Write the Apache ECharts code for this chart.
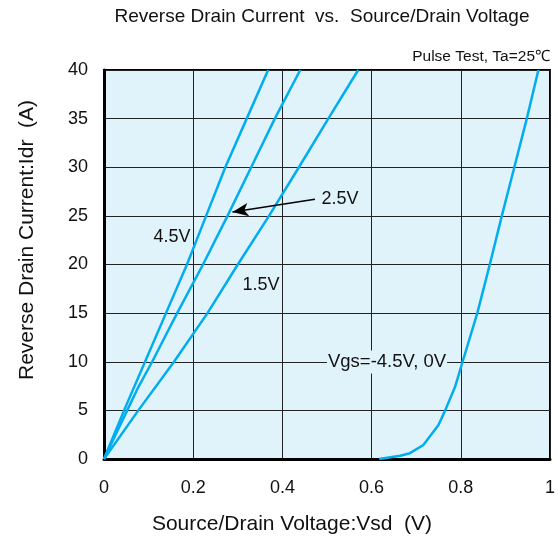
<!DOCTYPE html>
<html><head><meta charset="utf-8">
<script src="https://cdn.jsdelivr.net/npm/echarts@6/dist/echarts.min.js"></script>
<style>html,body{margin:0;padding:0;background:#fff}#c{width:558px;height:539px}</style>
</head><body><div id="c"></div>
<script>
const xTicks = [0, 0.2, 0.4, 0.6, 0.8, 1];
const yTicks = [0, 5, 10, 15, 20, 25, 30, 35, 40];
const vsd_45 = [0, 0.045, 0.092, 0.139, 0.186, 0.229, 0.272, 0.320, 0.368];
const idr_45 = [0, 5, 10, 15, 20, 25, 30, 35, 40];
const vsd_25 = [0, 0.052, 0.077, 0.108, 0.137, 0.164, 0.222, 0.277, 0.330, 0.383, 0.440];
const idr_25 = [0, 5, 7.4, 10, 12.6, 15, 20, 25, 30, 35, 40];
const vsd_15 = [0, 0.077, 0.157, 0.232, 0.300, 0.370, 0.437, 0.503, 0.570];
const idr_15 = [0, 5, 10, 15, 20, 25, 30, 35, 40];
const vsd_0 = [0.617, 0.664, 0.686, 0.716, 0.750, 0.765, 0.787, 0.804, 0.837, 0.865, 0.892, 0.920, 0.948, 0.974];
const idr_0 = [0, 0.34, 0.6, 1.44, 3.5, 5.0, 7.4, 10, 15, 20, 25, 30, 35, 40];

const FONT = '"Liberation Sans", Arial, sans-serif';
const LINE = '#00aeef';
const zip = (xs, ys) => xs.map((x, i) => [x, ys[i]]);

const chart = echarts.init(document.getElementById('c'), null, {renderer: 'canvas'});
function mkLine(name, xs, ys) {
  return {name, type: 'line', data: zip(xs, ys), showSymbol: false, symbol: 'none',
    lineStyle: {color: LINE, width: 2.5}, silent: true, z: 3};
}
const option = {
  animation: false,
  grid: {left: 104, right: 8, top: 70, bottom: 80, show: true, backgroundColor: '#e0f2fa',
    borderColor: '#000', borderWidth: 2, containLabel: false},
  xAxis: {type: 'value', min: xTicks[0], max: xTicks[xTicks.length - 1], interval: 0.2,
    axisLine: {show: true, onZero: false, lineStyle: {color: '#000', width: 3}},
    axisTick: {show: false},
    splitLine: {show: true, lineStyle: {color: '#222', width: 1}},
    axisLabel: {color: '#111', fontSize: 18, fontFamily: FONT, margin: 20,
      formatter: v => String(Math.round(v * 10) / 10)}},
  yAxis: {type: 'value', min: yTicks[0], max: yTicks[yTicks.length - 1], interval: 5,
    axisLine: {show: true, onZero: false, lineStyle: {color: '#000', width: 3}},
    axisTick: {show: false},
    splitLine: {show: true, lineStyle: {color: '#222', width: 1}},
    axisLabel: {color: '#111', fontSize: 18, fontFamily: FONT, margin: 16}},
  series: [
    mkLine('4.5V', vsd_45, idr_45),
    mkLine('2.5V', vsd_25, idr_25),
    mkLine('1.5V', vsd_15, idr_15),
    Object.assign(mkLine('Vgs=-4.5V, 0V', vsd_0, idr_0), {
      markLine: {silent: true, symbol: ['none', 'none'], animation: false,
        lineStyle: {color: '#222', width: 1, type: 'solid'}, label: {show: false},
        data: [[{coord: [0.769, 10]}, {coord: [0.80, 10]}]]}
    }),
    {type: 'line', data: [], markLine: {silent: true, animation: false, symbol: ['none', 'arrow'], symbolSize: [10, 16],
      lineStyle: {color: '#000', width: 1.5, type: 'solid'}, label: {show: false},
      data: [[{coord: [0.473, 26.7]}, {coord: [0.288, 25.4]}]]}}
  ],
  graphic: [
    {type: 'text', x: 322, y: 17, style: {text: 'Reverse Drain Current  vs.  Source/Drain Voltage', font: '19px ' + FONT, fill: '#111', align: 'center', verticalAlign: 'middle'}},
    {type: 'text', x: 550, y: 57, style: {text: 'Pulse Test, Ta=25\u2103', font: '15.5px ' + FONT, fill: '#111', align: 'right', verticalAlign: 'middle'}},
    {type: 'text', x: 292, y: 524, style: {text: 'Source/Drain Voltage:Vsd  (V)', font: '21px ' + FONT, fill: '#111', align: 'center', verticalAlign: 'middle'}},
    {type: 'text', x: 27, y: 240, rotation: Math.PI / 2, style: {text: 'Reverse Drain Current:Idr  (A)', font: '21px ' + FONT, fill: '#111', align: 'center', verticalAlign: 'middle'}},
    {type: 'text', x: 172, y: 237, z: 10, style: {text: '4.5V', font: '18px ' + FONT, fill: '#111', align: 'center', verticalAlign: 'middle'}},
    {type: 'text', x: 340, y: 199, z: 10, style: {text: '2.5V', font: '18px ' + FONT, fill: '#111', align: 'center', verticalAlign: 'middle'}},
    {type: 'text', x: 261, y: 285, z: 10, style: {text: '1.5V', font: '18px ' + FONT, fill: '#111', align: 'center', verticalAlign: 'middle'}},
    {type: 'text', x: 387, y: 362, z: 10, style: {text: 'Vgs=-4.5V, 0V', font: '18.5px ' + FONT, fill: '#111', align: 'center', verticalAlign: 'middle', backgroundColor: '#e0f2fa', padding: [2, 1]}}
  ]
};
chart.setOption(option);
</script>
</body></html>
